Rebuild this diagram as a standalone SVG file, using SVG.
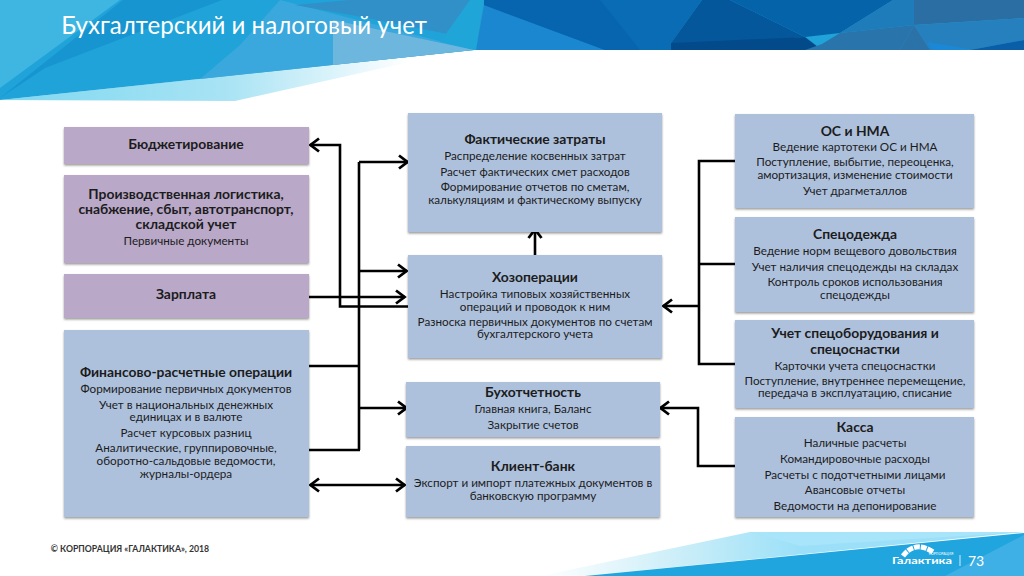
<svg xmlns="http://www.w3.org/2000/svg" width="1024" height="576" viewBox="0 0 1024 576">
<style>
text{font-family:"Lato","Open Sans","Liberation Sans",sans-serif;fill:#1c1c1c;text-anchor:middle;font-size:11.7px}
.b{font-weight:700;font-size:13.9px}
.p{fill:#b9a8c8;filter:url(#s)}
.n{fill:#aec1dc;filter:url(#s)}
.c{fill:none;stroke:#000;stroke-width:2.6}
.a{marker-end:url(#m)}
</style>
<defs>
<filter id="s" x="-5%" y="-5%" width="110%" height="115%"><feDropShadow dx="0" dy="1.5" stdDeviation="1.2" flood-color="#000" flood-opacity=".4"/></filter>
<marker id="m" markerUnits="userSpaceOnUse" markerWidth="14" markerHeight="16" refX="11" refY="8" orient="auto-start-reverse"><path d="M2 1.5L10.500 8L2 14.500" fill="none" stroke="#000" stroke-width="2.8"/></marker>
<linearGradient id="g1" gradientUnits="userSpaceOnUse" x1="0" x2="410" y1="0" y2="0"><stop offset="0" stop-color="#7fd8f0"/><stop offset=".55" stop-color="#a8e3f4"/><stop offset="1" stop-color="#fff"/></linearGradient>
<linearGradient id="g2" gradientUnits="userSpaceOnUse" x1="540" x2="800" y1="0" y2="0"><stop offset="0" stop-color="#fff"/><stop offset=".6" stop-color="#c5ecf8"/><stop offset="1" stop-color="#9be0f8"/></linearGradient>
</defs>
<rect width="1024" height="576" fill="#fff"/>
<g id="header">
<polygon points="0,100 235,101 410,62 474,50" fill="url(#g1)"/>
<polygon points="0,0 1024,0 1024,50 474,50 0,100" fill="#20a3d8"/>
<polygon points="0,0 120,0 0,88" fill="#3fb6e2"/>
<polygon points="0,98 123,0 222,0 45,68" fill="#1795d0"/>
<polygon points="280,0 474,50 200,79 240,45" fill="#3aa8dc"/>
<polygon points="333,20 474,50 333,65" fill="#6db7de"/>
<polygon points="295,5 350,0 484,0 478,40 367,18" fill="#3190c8"/>
<polygon points="470,0 484,0 476,50 440,42" fill="#20a5d8"/>
<polygon points="484,5 476,50 605,50" fill="#1a87d0"/>
<polygon points="484,0 702,0 671,43 671,50 605,50 484,5" fill="#0a6cb5"/>
<polygon points="484,0 600,0 640,50 605,50 484,5" fill="#0665ae"/>
<polygon points="702,0 730,0 805,37 731,43 671,50 671,43" fill="#05579c"/>
<polygon points="671,50 671,43 805,37 822,50" fill="#034a8a"/>
<polygon points="730,0 893,0 840,33 805,37" fill="#0563aa"/>
<polygon points="893,0 914,0 914,25 840,33" fill="#1e7cba"/>
<polygon points="914,0 1024,0 1024,18 914,25" fill="#2a6ea3"/>
<polygon points="805,50 822,44 840,33 914,25 900,50" fill="#2a74ac"/>
<polygon points="914,25 1024,18 1024,40 970,50 930,50" fill="#2680be"/>
<polygon points="914,25 900,50 930,50" fill="#2a72a8"/>
<polygon points="927,42 975,50 932,50" fill="#1a88d6"/>
<polygon points="970,50 1024,40 1024,50" fill="#0a5ea8"/>
<text x="244" y="34" style="font-size:24.100px;fill:#fff" id="title">Бухгалтерский и налоговый учет</text>
</g>
<g id="footer">
<polygon points="540,576 750,532 1024,532 585,576" fill="url(#g2)"/>
<polygon points="750,532 1024,532 800,546" fill="#a8e4fa"/>
<polygon points="585,576 1024,533 1024,576" fill="#20a5de"/>
<polygon points="945,576 1024,535 1024,576" fill="#3fb0e6"/>
<text x="130" y="552" style="font-size:8.700px;font-weight:700;fill:#333">© КОРПОРАЦИЯ «ГАЛАКТИКА», 2018</text>
<path d="M903 556Q915 540 933 552" fill="none" stroke="#fff" stroke-width="5" stroke-dasharray="6 1"/>
<text x="922" y="564" textLength="60" lengthAdjust="spacingAndGlyphs" style="font-size:9.500px;font-weight:700;fill:#fff">Галактика</text>
<text x="941" y="555" style="font-size:3.500px;fill:#fff">КОРПОРАЦИЯ</text>
<path d="M960 555V566" stroke="#cfeefa"/>
<text x="976" y="566" style="font-size:14px;fill:#fff">73</text>
</g>
<g id="connectors" class="connectors">
<path class="c a" d="M408 306.500H340V145H310"/>
<path class="c" d="M359 450V162"/>
<path class="c a" d="M359 162H408"/>
<path class="c a" d="M359 271H407"/>
<path class="c a" d="M309 297H405"/>
<path class="c" d="M309 366H359"/>
<path class="c a" d="M359 408H407"/>
<path class="c" d="M308 450H360"/>
<path class="c a" d="M310 485H405" style="marker-start:url(#m)"/>
<path class="c" d="M735 161H699V364H735M699 264H735"/>
<path class="c a" d="M699 306H663"/>
<path class="c a" d="M735 466H698V408H660"/>
<path class="c a" d="M535 255V229"/>
</g>
<g id="n-budget"><rect class="p" x="64" y="127" width="245" height="37"/><text class="b" x="186" y="149">Бюджетирование</text></g>
<g id="n-logistics"><rect class="p" x="64" y="175" width="245" height="88"/><text class="b" x="186" y="199">Производственная логистика,</text><text class="b" x="186" y="214">снабжение, сбыт, автотранспорт,</text><text class="b" x="186" y="229">складской учет</text><text x="186" y="245">Первичные документы</text></g>
<g id="n-salary"><rect class="p" x="64" y="274" width="245" height="44"/><text class="b" x="186" y="299">Зарплата</text></g>
<g id="n-finance"><rect class="n" x="64" y="330" width="245" height="187"/><text class="b" x="186" y="377">Финансово-расчетные операции</text><text x="186" y="393">Формирование первичных документов</text><text x="186" y="409">Учет в  национальных денежных</text><text x="186" y="421">единицах и в валюте</text><text x="186" y="437">Расчет курсовых разниц</text><text x="186" y="452">Аналитические, группировочные,</text><text x="186" y="465">оборотно-сальдовые ведомости,</text><text x="186" y="478">журналы-ордера</text></g>
<g id="n-costs"><rect class="n" x="408" y="113" width="254" height="119"/><text class="b" x="535" y="144">Фактические затраты</text><text x="535" y="160">Распределение косвенных затрат</text><text x="535" y="176">Расчет фактических смет расходов</text><text x="535" y="191">Формирование отчетов по сметам,</text><text x="535" y="204">калькуляциям и фактическому выпуску</text></g>
<g id="n-ops"><rect class="n" x="408" y="255" width="254" height="103"/><text class="b" x="535" y="282">Хозоперации</text><text x="535" y="298">Настройка типовых хозяйственных</text><text x="535" y="311">операций и проводок к ним</text><text x="535" y="326">Разноска первичных документов по счетам</text><text x="535" y="338">бухгалтерского учета</text></g>
<g id="n-report"><rect class="n" x="406" y="382" width="254" height="55"/><text class="b" x="533" y="397">Бухотчетность</text><text x="533" y="413">Главная книга, Баланс</text><text x="533" y="429">Закрытие счетов</text></g>
<g id="n-bank"><rect class="n" x="406" y="446" width="254" height="71"/><text class="b" x="533" y="471">Клиент-банк</text><text x="533" y="487">Экспорт и импорт платежных документов в</text><text x="533" y="500">банковскую программу</text></g>
<g id="n-assets"><rect class="n" x="735" y="114" width="239" height="94"/><text class="b" x="855" y="136">ОС и НМА</text><text x="855" y="151">Ведение картотеки ОС и НМА</text><text x="855" y="166">Поступление, выбытие, переоценка,</text><text x="855" y="179">амортизация, изменение  стоимости</text><text x="855" y="195">Учет драгметаллов</text></g>
<g id="n-workwear"><rect class="n" x="735" y="217" width="239" height="95"/><text class="b" x="855" y="239">Спецодежда</text><text x="855" y="255">Ведение норм вещевого довольствия</text><text x="855" y="271">Учет наличия спецодежды на складах</text><text x="855" y="286">Контроль сроков использования</text><text x="855" y="299">спецодежды</text></g>
<g id="n-equipment"><rect class="n" x="735" y="320" width="239" height="88"/><text class="b" x="855" y="338">Учет спецоборудования и</text><text class="b" x="855" y="354">спецоснастки</text><text x="855" y="370">Карточки  учета спецоснастки</text><text x="855" y="385">Поступление, внутреннее перемещение,</text><text x="855" y="397">передача в эксплуатацию, списание</text></g>
<g id="n-cash"><rect class="n" x="735" y="417" width="239" height="100"/><text class="b" x="855" y="432">Касса</text><text x="855" y="447">Наличные расчеты</text><text x="855" y="463">Командировочные расходы</text><text x="855" y="479">Расчеты с подотчетными лицами</text><text x="855" y="494">Авансовые отчеты</text><text x="855" y="510">Ведомости на депонирование</text></g>
</svg>
